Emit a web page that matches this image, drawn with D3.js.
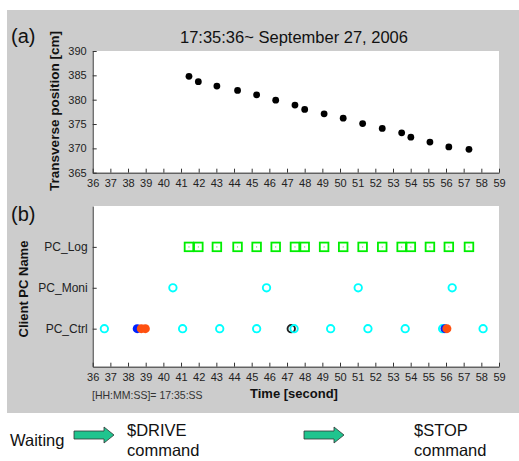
<!DOCTYPE html>
<html>
<head>
<meta charset="utf-8">
<script src="https://cdn.jsdelivr.net/npm/d3@7"></script>
<style>
  body { margin: 0; background: #fff; }
  text { font-family: "Liberation Sans", Arial, sans-serif; }
</style>
</head>
<body>
<div id="chart"></div>
<script>
// position samples (a), same instants as the PC_Log records in (b)
const sampleTimes = [41.45, 41.98, 43.03, 44.2, 45.28, 46.36, 47.45, 48.0, 49.1, 50.18,
                     51.28, 52.39, 53.49, 54.01, 55.09, 56.16, 57.3];
const positions = [384.8, 383.7, 382.8, 381.9, 381.0, 379.9, 378.9, 378.0, 377.1, 376.2,
                   375.1, 374.1, 373.2, 372.3, 371.3, 370.3, 369.8];

const pcNames = ["PC_Ctrl", "PC_Moni", "PC_Log"];
const moniTimes = [40.54, 45.84, 51.03, 56.35];
const ctrlTimes = [36.66, 41.09, 43.19, 45.28, 47.4, 49.47, 51.58, 53.69, 55.81, 58.1];
const driveTimes = [38.52, 55.94];          // blue
const stopTimes = [38.75, 38.98, 56.05];    // orange
const waitTimes = [47.24];                  // black

const xTicks = d3.range(36, 60);
const yTicksA = [365, 370, 375, 380, 385, 390];

const width = 519, height = 461;
const left = 92.7, right = 499;

const svg = d3.select("#chart").append("svg")
    .attr("width", width)
    .attr("height", height);

svg.append("rect")
    .attr("x", 7).attr("y", 10)
    .attr("width", width - 7).attr("height", 403)
    .attr("fill", "#cccccc");

const x = d3.scaleLinear().domain([36, 59]).range([left, right]);

// ---------- panel (a)
const yA = d3.scaleLinear().domain([365, 390]).range([172.7, 51]);

svg.append("rect")
    .attr("x", left).attr("y", 51)
    .attr("width", right - left).attr("height", 172.7 - 51)
    .attr("fill", "#fff");

function styleAxis(g) {
    g.selectAll("path").attr("stroke", "#333");
    g.selectAll("line").attr("stroke", "#333");
    g.selectAll("text")
        .attr("fill", "#222")
        .style("font-size", "11px")
        .style("font-family", "'Liberation Sans', Arial, sans-serif");
}

svg.append("g")
    .attr("transform", "translate(0," + 172.7 + ")")
    .call(d3.axisBottom(x).tickValues(xTicks).tickFormat(d3.format("d"))
        .tickSizeInner(-4).tickSizeOuter(0).tickPadding(7))
    .call(styleAxis);

svg.append("g")
    .attr("transform", "translate(" + left + ",0)")
    .call(d3.axisLeft(yA).tickValues(yTicksA).tickFormat(d3.format("d"))
        .tickSizeInner(-4).tickSizeOuter(0).tickPadding(6))
    .call(styleAxis);

svg.append("g")
    .selectAll("circle")
    .data(d3.zip(sampleTimes, positions))
    .join("circle")
    .attr("cx", d => x(d[0]))
    .attr("cy", d => yA(d[1]))
    .attr("r", 3.4)
    .attr("fill", "#000");

svg.append("text")
    .attr("x", 294).attr("y", 43)
    .attr("text-anchor", "middle")
    .style("font-size", "16.5px")
    .attr("fill", "#111")
    .text("17:35:36~ September 27, 2006");

svg.append("text")
    .attr("x", 11).attr("y", 43)
    .style("font-size", "20px")
    .attr("fill", "#111")
    .text("(a)");

svg.append("text")
    .attr("transform", "translate(59,111) rotate(-90)")
    .attr("text-anchor", "middle")
    .style("font-size", "13.5px")
    .style("font-weight", "bold")
    .attr("fill", "#111")
    .text("Transverse position [cm]");

// ---------- panel (b)
const yB = d3.scaleLinear().domain([0.07, 4]).range([366.7, 206]);

svg.append("rect")
    .attr("x", left).attr("y", 206)
    .attr("width", right - left).attr("height", 366.7 - 206)
    .attr("fill", "#fff");

svg.append("g")
    .attr("transform", "translate(0," + 366.7 + ")")
    .call(d3.axisBottom(x).tickValues(xTicks).tickFormat(d3.format("d"))
        .tickSizeInner(-4).tickSizeOuter(0).tickPadding(7))
    .call(styleAxis);

svg.append("g")
    .attr("transform", "translate(" + left + ",0)")
    .call(d3.axisLeft(yB).tickValues([1, 2, 3]).tickFormat(d => pcNames[d - 1])
        .tickSizeInner(-4).tickSizeOuter(0).tickPadding(5))
    .call(styleAxis)
    .call(g => g.selectAll("text").style("font-size", "12px"));

const row = name => yB(pcNames.indexOf(name) + 1);

// PC_Log squares
const logG = svg.append("g");
logG.selectAll("rect")
    .data(sampleTimes)
    .join("rect")
    .attr("x", d => x(d) - 4.3)
    .attr("y", row("PC_Log") - 4.3)
    .attr("width", 8.6).attr("height", 8.6)
    .attr("fill", "none")
    .attr("stroke", "#00ee00")
    .attr("stroke-width", 1.8);
logG.selectAll("circle")
    .data(sampleTimes)
    .join("circle")
    .attr("cx", d => x(d))
    .attr("cy", row("PC_Log"))
    .attr("r", 0.6)
    .attr("fill", "#66cc66");

function ring(data, name, color) {
    svg.append("g")
        .selectAll("circle")
        .data(data)
        .join("circle")
        .attr("cx", d => x(d))
        .attr("cy", row(name))
        .attr("r", 3.7)
        .attr("fill", "none")
        .attr("stroke", color)
        .attr("stroke-width", 1.9);
}

function dot(data, name, color) {
    svg.append("g")
        .selectAll("circle")
        .data(data)
        .join("circle")
        .attr("cx", d => x(d))
        .attr("cy", row(name))
        .attr("r", 4.5)
        .attr("fill", color);
}

ring(moniTimes, "PC_Moni", "#00ffff");
ring(waitTimes, "PC_Ctrl", "#222");
ring(ctrlTimes, "PC_Ctrl", "#00ffff");
dot(driveTimes, "PC_Ctrl", "#0022ff");
dot(stopTimes, "PC_Ctrl", "#ff5010");

svg.append("text")
    .attr("x", 11).attr("y", 221)
    .style("font-size", "20px")
    .attr("fill", "#111")
    .text("(b)");

svg.append("text")
    .attr("transform", "translate(28,289) rotate(-90)")
    .attr("text-anchor", "middle")
    .style("font-size", "13px")
    .style("font-weight", "bold")
    .attr("fill", "#111")
    .text("Client PC Name");

svg.append("text")
    .attr("x", 294).attr("y", 398)
    .attr("text-anchor", "middle")
    .style("font-size", "13px")
    .style("font-weight", "bold")
    .attr("fill", "#111")
    .text("Time [second]");

svg.append("text")
    .attr("x", 92).attr("y", 399)
    .style("font-size", "10.5px")
    .attr("fill", "#333")
    .text("[HH:MM:SS]= 17:35:SS");

// ---------- legend row below the figure
const arrow = x0 => {
    const cy = 435;
    return [[x0, cy - 4], [x0 + 30, cy - 4], [x0 + 30, cy - 8], [x0 + 40, cy],
            [x0 + 30, cy + 8], [x0 + 30, cy + 4], [x0, cy + 4]];
};
const line = d3.line();
[74, 304].forEach(x0 => {
    svg.append("path")
        .attr("d", line(arrow(x0)) + "Z")
        .attr("fill", "#1fc48e")
        .attr("stroke", "#333")
        .attr("stroke-width", 0.8);
});

const labels = [
    { t: "Waiting", x: 10, y: 446 },
    { t: "$DRIVE", x: 127, y: 436 },
    { t: "command", x: 127, y: 456 },
    { t: "$STOP", x: 414, y: 436 },
    { t: "command", x: 414, y: 456 }
];
svg.append("g")
    .selectAll("text")
    .data(labels)
    .join("text")
    .attr("x", d => d.x).attr("y", d => d.y)
    .style("font-size", "16.5px")
    .attr("fill", "#111")
    .text(d => d.t);
</script>
</body>
</html>
